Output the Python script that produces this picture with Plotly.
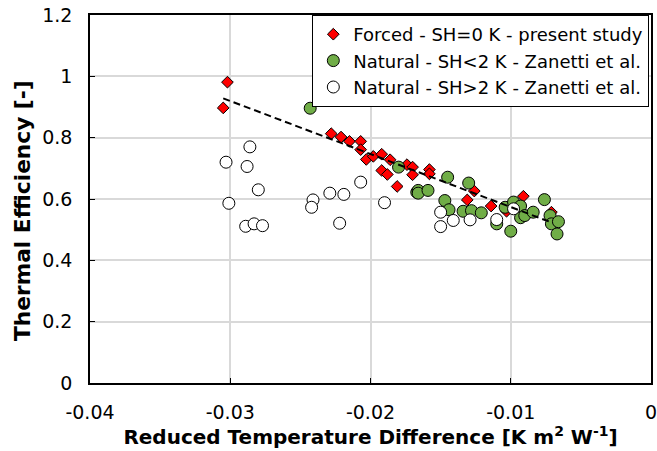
import numpy as np
import plotly.graph_objects as go

# Forced - SH=0 K - present study
forced_x = [-0.0302, -0.0305, -0.0228, -0.0221, -0.0215, -0.0207, -0.0207, -0.0203,
            -0.0198, -0.0192, -0.0186, -0.0192, -0.0188, -0.0181, -0.0174, -0.0170,
            -0.0170, -0.0158, -0.0158, -0.0126, -0.0131, -0.0114, -0.0091, -0.0071,
            -0.0103]
forced_y = [0.981, 0.897, 0.813, 0.802, 0.788, 0.788, 0.761, 0.729,
            0.739, 0.746, 0.728, 0.693, 0.680, 0.641, 0.712, 0.704,
            0.679, 0.696, 0.682, 0.626, 0.597, 0.577, 0.609, 0.557,
            0.560]

# Natural - SH<2 K - Zanetti et al.
nat_lo_x = [-0.0243, -0.0180, -0.0167, -0.0145, -0.0130, -0.0166, -0.0166, -0.0159,
            -0.0147, -0.0144, -0.0134, -0.0128, -0.0121, -0.0110, -0.0104, -0.0098,
            -0.0093, -0.0093, -0.0090, -0.0084, -0.0100, -0.0076, -0.0072, -0.0071,
            -0.0066, -0.0067]
nat_lo_y = [0.896, 0.704, 0.622, 0.671, 0.652, 0.628, 0.619, 0.628,
            0.595, 0.565, 0.560, 0.562, 0.555, 0.519, 0.573, 0.590,
            0.577, 0.539, 0.546, 0.557, 0.495, 0.598, 0.546, 0.519,
            0.526, 0.486]

# Natural - SH>2 K - Zanetti et al.
nat_hi_x = [-0.0286, -0.0303, -0.0288, -0.0280, -0.0301, -0.0289, -0.0283, -0.0277,
            -0.0241, -0.0242, -0.0229, -0.0219, -0.0222, -0.0207, -0.0190,
            -0.0150, -0.0150, -0.0141, -0.0129, -0.0110, -0.0098]
nat_hi_y = [0.770, 0.720, 0.706, 0.630, 0.586, 0.511, 0.519, 0.513,
            0.597, 0.573, 0.619, 0.615, 0.521, 0.655, 0.588,
            0.557, 0.510, 0.530, 0.532, 0.533, 0.568]

x_ticks = [-0.04, -0.03, -0.02, -0.01, 0]
x_tick_labels = ["-0.04", "-0.03", "-0.02", "-0.01", "0"]
y_ticks = [0, 0.2, 0.4, 0.6, 0.8, 1.0, 1.2]
y_tick_labels = ["0", "0.2", "0.4", "0.6", "0.8", "1", "1.2"]

x_title = "<b>Reduced Temperature Difference [K m<sup>2</sup> W<sup>-1</sup>]</b>"
y_title = "<b>Thermal Efficiency [-]</b>"

# linear trendline through the forced data
coef = np.polyfit(forced_x, forced_y, 1)
fit_x = np.array([min(forced_x), max(forced_x)])
fit_y = np.polyval(coef, fit_x)

FONT = "DejaVu Sans, Arial, sans-serif"

fig = go.Figure()
fig.add_trace(go.Scatter(
    x=forced_x, y=forced_y, mode="markers", name="Forced - SH=0 K - present study",
    marker=dict(symbol="diamond", size=9, color="#FF0000", line=dict(color="black", width=1))))
fig.add_trace(go.Scatter(
    x=nat_lo_x, y=nat_lo_y, mode="markers", name="Natural - SH<2 K - Zanetti et al.",
    marker=dict(symbol="circle", size=12, color="#70AD47", line=dict(color="black", width=1))))
fig.add_trace(go.Scatter(
    x=nat_hi_x, y=nat_hi_y, mode="markers", name="Natural - SH>2 K - Zanetti et al.",
    marker=dict(symbol="circle", size=12, color="white", line=dict(color="black", width=1))))
fig.add_trace(go.Scatter(
    x=fit_x, y=fit_y, mode="lines", showlegend=False,
    line=dict(color="black", width=2, dash="7px,4px")))

axis_common = dict(
    showline=True, linecolor="black", linewidth=1.5, mirror=True,
    showgrid=True, gridcolor="#D9D9D9", gridwidth=1.5, zeroline=False,
    ticks="inside", ticklen=5, tickcolor="black", tickwidth=1,
    tickfont=dict(family=FONT, size=19, color="black"),
    ticklabeloverflow="allow",
)
fig.update_xaxes(range=[-0.04, 0], tickvals=x_ticks, ticktext=x_tick_labels,
                 ticklabelstandoff=11,
                 title=dict(text=x_title,
                            font=dict(family=FONT, size=20, color="black"),
                            standoff=3),
                 **axis_common)
fig.update_yaxes(range=[0, 1.2], tickvals=y_ticks, ticktext=y_tick_labels,
                 ticklabelstandoff=12,
                 **axis_common)
fig.add_annotation(text=y_title, textangle=-90, showarrow=False,
                   xref="paper", yref="paper", x=0, y=0.5,
                   xanchor="center", yanchor="middle", xshift=-68, yshift=-12,
                   font=dict(family=FONT, size=21.7, color="black"))
fig.update_layout(
    width=657, height=451,
    margin=dict(l=90, r=6, t=15, b=68, autoexpand=False),
    plot_bgcolor="white", paper_bgcolor="white",
    legend=dict(x=0.997, y=1.0, xanchor="right", yanchor="top",
                bgcolor="white", bordercolor="black", borderwidth=1,
                font=dict(family=FONT, size=18, color="black"),
                itemwidth=30),
    showlegend=True,
)
fig.write_html("out.html", config={"displayModeBar": False},
               post_script="document.body.style.margin='0';")
